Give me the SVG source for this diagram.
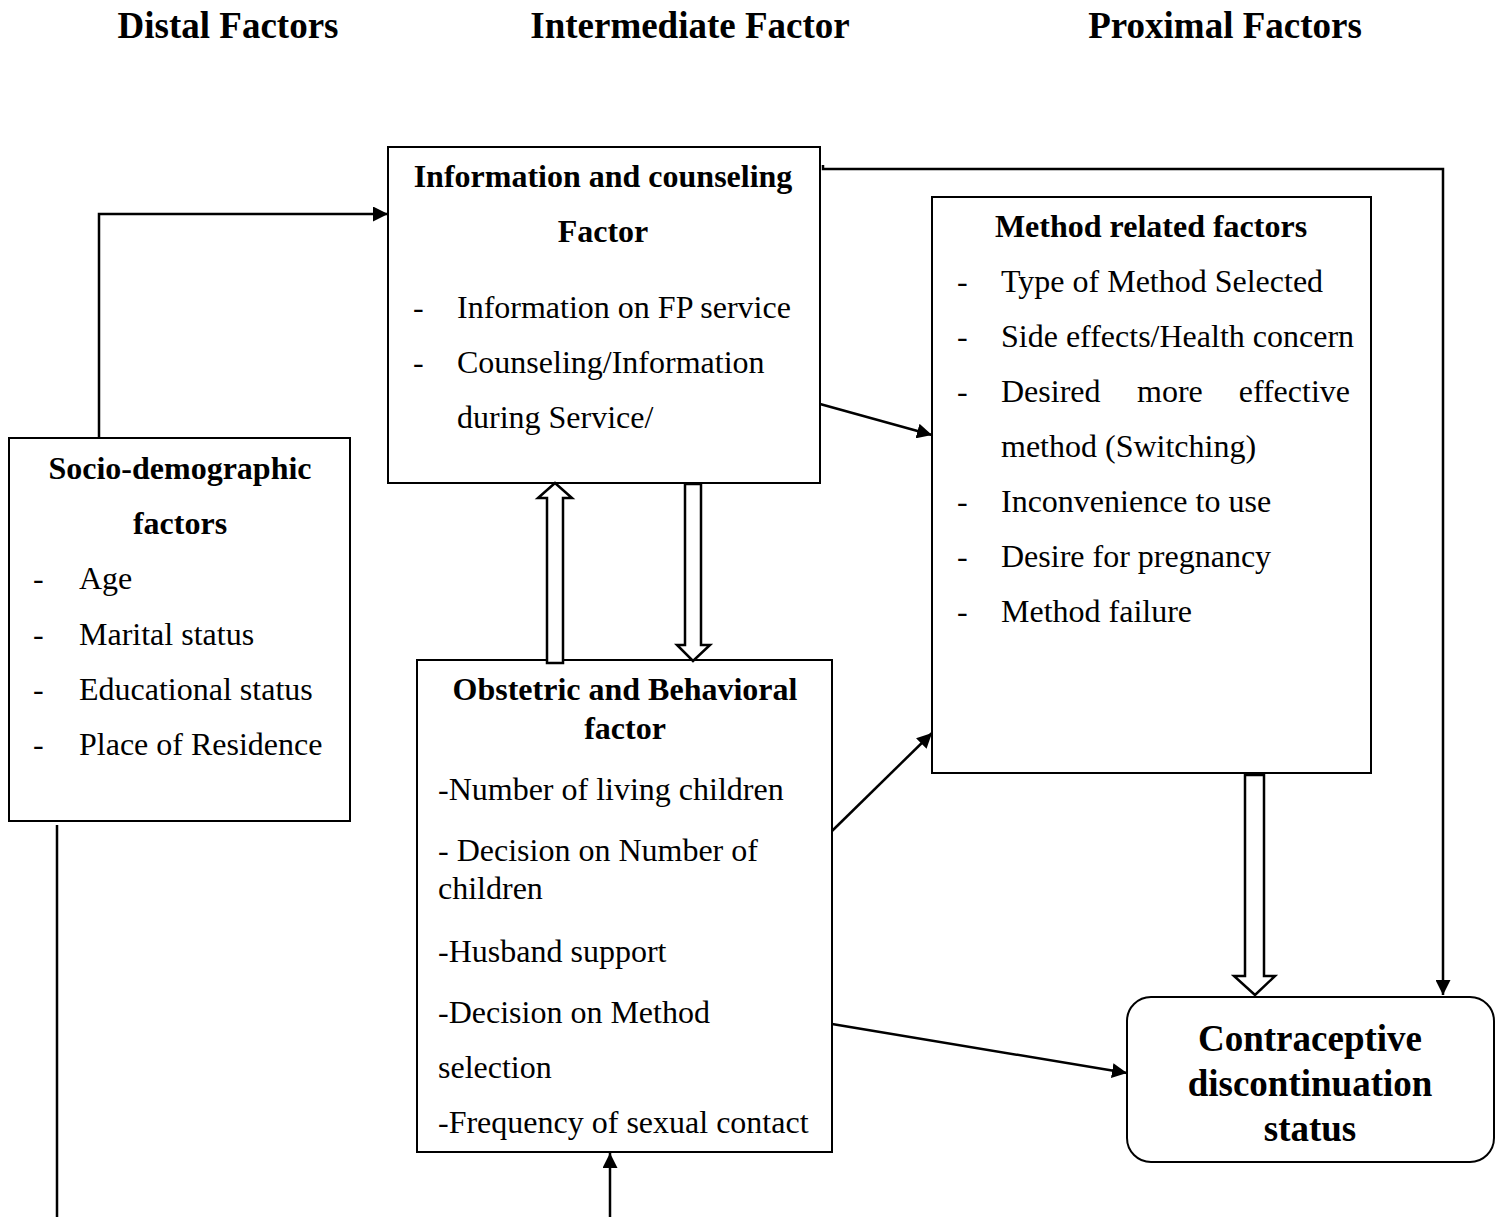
<svg xmlns="http://www.w3.org/2000/svg" width="1505" height="1217" viewBox="0 0 1505 1217">
<style>
text{font-family:"Liberation Serif","Times New Roman",serif;fill:#000}
.h{font-size:37px;font-weight:bold;text-anchor:middle}
.b{font-size:32px;font-weight:bold;text-anchor:middle}
.t{font-size:32px}
.box{fill:#fff;stroke:#000;stroke-width:2}
.ln{fill:none;stroke:#000;stroke-width:2.5}
.hol{fill:#fff;stroke:#000;stroke-width:2.5;stroke-linejoin:miter}
</style>
<defs>
<marker id="ah" viewBox="0 0 10 10" refX="10" refY="5" markerWidth="6" markerHeight="6" markerUnits="strokeWidth" orient="auto">
<path d="M0,0 L10,5 L0,10 z" fill="#000"/>
</marker>
</defs>
<rect width="1505" height="1217" fill="#fff"/>
<g id="titles">
<text class="h" x="228" y="38">Distal Factors</text>
<text class="h" x="690" y="38">Intermediate Factor</text>
<text class="h" x="1225" y="38">Proximal Factors</text>
</g>
<g id="connectors">
<polyline class="ln" points="99,438 99,214 388,214" marker-end="url(#ah)"/>
<line class="ln" x1="820" y1="404" x2="932" y2="435" marker-end="url(#ah)"/>
<line class="ln" x1="832" y1="831" x2="932" y2="733" marker-end="url(#ah)"/>
<line class="ln" x1="832" y1="1024" x2="1127" y2="1073" marker-end="url(#ah)"/>
<polyline class="ln" points="823,165 823,169 1443,169 1443,995" marker-end="url(#ah)"/>
<line class="ln" x1="57" y1="825" x2="57" y2="1217"/>
<line class="ln" x1="610" y1="1217" x2="610" y2="1153" marker-end="url(#ah)"/>
</g>
<g id="info">
<rect class="box" x="388" y="147" width="432" height="336"/>
<text class="b" x="603" y="187">Information and counseling</text>
<text class="b" x="603" y="242">Factor</text>
<text class="t" x="413" y="318">-</text><text class="t" x="457" y="318">Information on FP service</text>
<text class="t" x="413" y="373">-</text><text class="t" x="457" y="373">Counseling/Information</text>
<text class="t" x="457" y="428">during Service/</text>
</g>
<g id="method">
<rect class="box" x="932" y="197" width="439" height="576"/>
<text class="b" x="1151" y="237">Method related factors</text>
<text class="t" x="957" y="292">-</text><text class="t" x="1001" y="292">Type of Method Selected</text>
<text class="t" x="957" y="347">-</text><text class="t" x="1001" y="347">Side effects/Health concern</text>
<text class="t" x="957" y="402">-</text><text class="t" x="1001" y="402">Desired</text><text class="t" x="1137" y="402">more</text><text class="t" x="1350" y="402" text-anchor="end">effective</text>
<text class="t" x="1001" y="457">method (Switching)</text>
<text class="t" x="957" y="512">-</text><text class="t" x="1001" y="512">Inconvenience to use</text>
<text class="t" x="957" y="567">-</text><text class="t" x="1001" y="567">Desire for pregnancy</text>
<text class="t" x="957" y="622">-</text><text class="t" x="1001" y="622">Method failure</text>
</g>
<g id="socio">
<rect class="box" x="9" y="438" width="341" height="383"/>
<text class="b" x="180" y="479">Socio-demographic</text>
<text class="b" x="180" y="534">factors</text>
<text class="t" x="33" y="589">-</text><text class="t" x="79" y="589">Age</text>
<text class="t" x="33" y="645">-</text><text class="t" x="79" y="645">Marital status</text>
<text class="t" x="33" y="700">-</text><text class="t" x="79" y="700">Educational status</text>
<text class="t" x="33" y="755">-</text><text class="t" x="79" y="755">Place of Residence</text>
</g>
<g id="obstetric">
<rect class="box" x="417" y="660" width="415" height="492"/>
<text class="b" x="625" y="700">Obstetric and Behavioral</text>
<text class="b" x="625" y="739">factor</text>
<text class="t" x="438" y="800">-Number of living children</text>
<text class="t" x="438" y="861">- Decision on Number of</text>
<text class="t" x="438" y="899">children</text>
<text class="t" x="438" y="962">-Husband support</text>
<text class="t" x="438" y="1023">-Decision on Method</text>
<text class="t" x="438" y="1078">selection</text>
<text class="t" x="438" y="1133">-Frequency of sexual contact</text>
</g>
<g id="outcome">
<rect class="box" x="1127" y="997" width="367" height="165" rx="24" ry="24"/>
<text class="h" x="1310" y="1051">Contraceptive</text>
<text class="h" x="1310" y="1096">discontinuation</text>
<text class="h" x="1310" y="1141">status</text>
</g>
<g id="hollow-arrows">
<polygon class="hol" points="547,663 547,498 538,498 555,483 572,498 563,498 563,663"/>
<polygon class="hol" points="685,484 685,645 677,645 693,661 710,645 701,645 701,484"/>
<polygon class="hol" points="1245,775 1245,976 1234,976 1255,995 1275,976 1264,976 1264,775"/>
</g>
</svg>
